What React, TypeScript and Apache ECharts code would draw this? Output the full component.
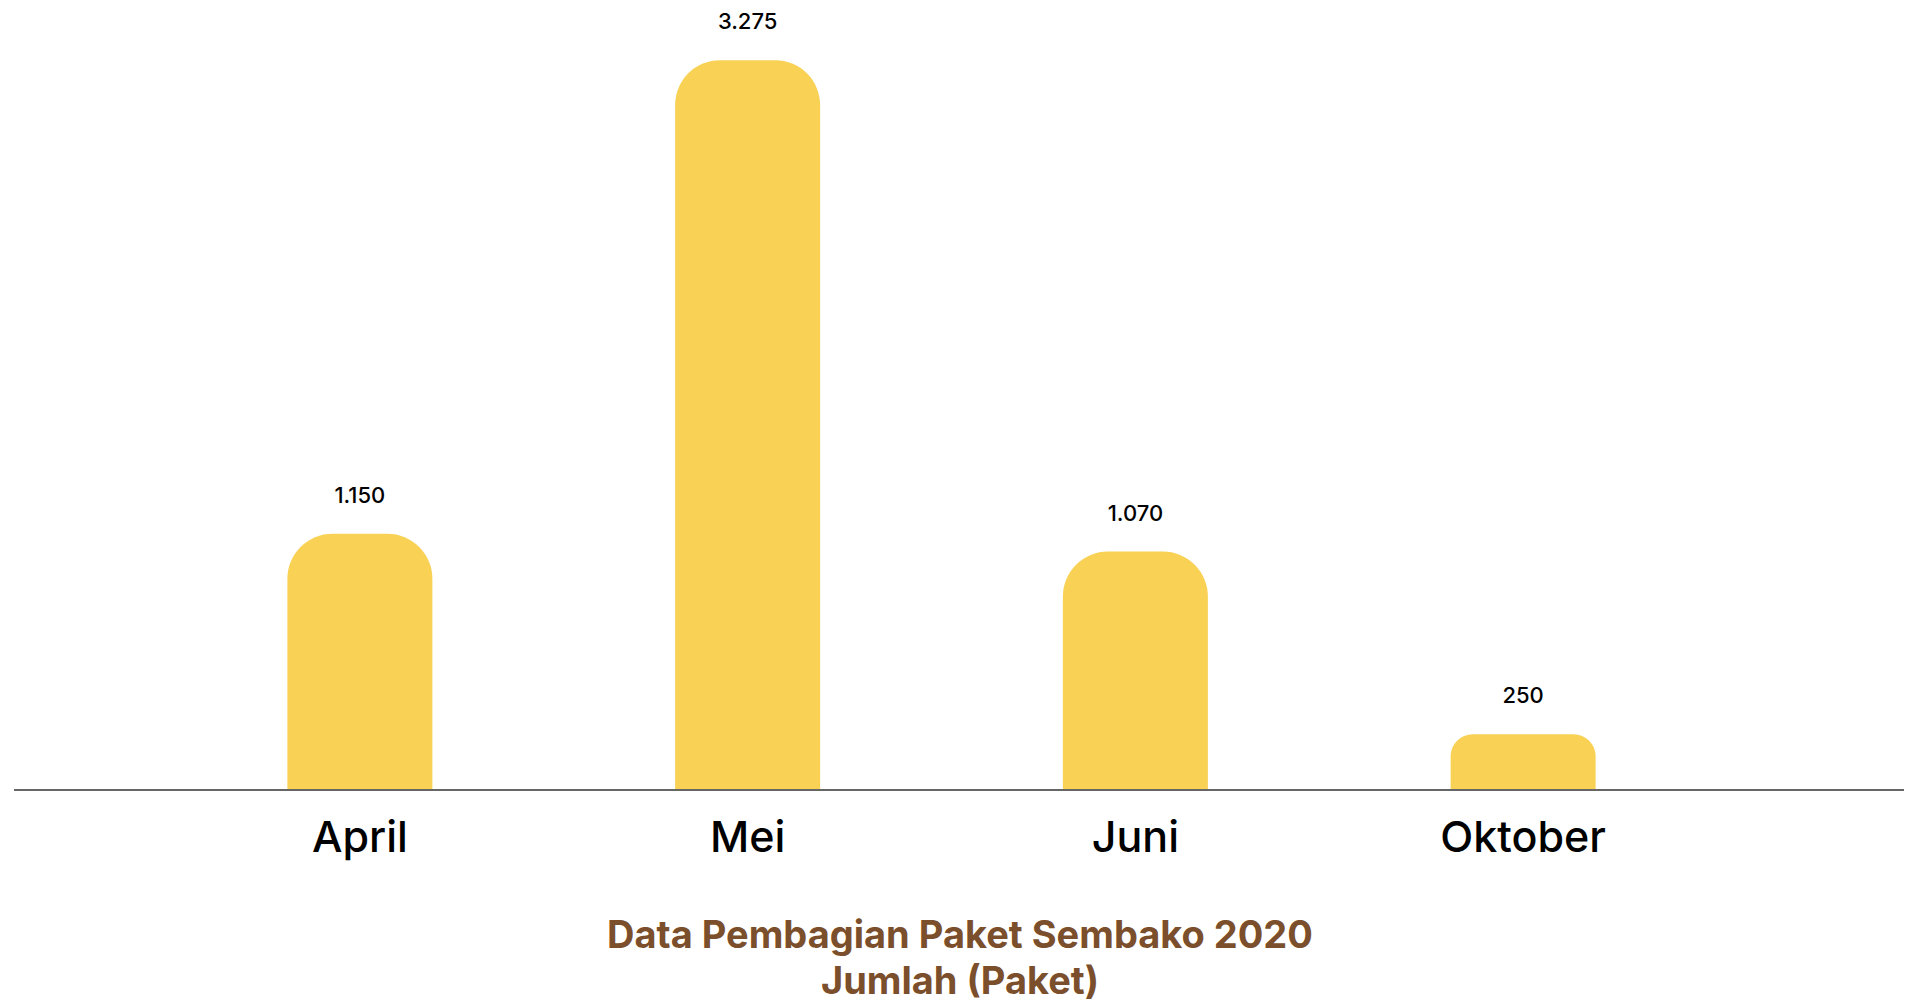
import { useEffect, useRef } from "react";
import * as echarts from "echarts";

// data pembagian paket sembako 2020
const MONTHS = ["April", "Mei", "Juni", "Oktober"];
const PAKET = [1150, 3275, 1070, 250];

const BAR = "#F8D155";
const AXIS = "#666666";
const BROWN = "#7B4F2B";
const FONT = "Inter, 'Noto Sans', sans-serif";

// angka gaya Indonesia: titik sebagai pemisah ribuan
const fmtID = (v: number) => v.toLocaleString("de-DE");

export default function App() {
  const ref = useRef<HTMLDivElement>(null);

  useEffect(() => {
    document.body.style.margin = "0";
    if (!ref.current) return;
    const inst = echarts.init(ref.current, undefined, { renderer: "svg" });

    inst.setOption({
      backgroundColor: "#ffffff",
      animation: false,
      textStyle: { fontFamily: FONT },
      title: {
        text: "Data Pembagian Paket Sembako 2020\nJumlah (Paket)",
        left: "center",
        top: 911,
        padding: 0,
        textStyle: { color: BROWN, fontSize: 38, fontWeight: 700, lineHeight: 46, fontFamily: FONT },
      },
      grid: { left: 166, right: 203, top: 10, bottom: 215 },
      xAxis: {
        type: "category",
        data: MONTHS,
        axisLine: { show: false },
        axisTick: { show: false },
        axisLabel: { color: "#000", fontSize: 43, fontWeight: 500, margin: 24, fontFamily: FONT },
      },
      yAxis: {
        type: "value",
        min: 0,
        max: 3500,
        show: false,
        splitLine: { show: false },
      },
      graphic: [
        {
          type: "line",
          shape: { x1: 14, y1: 790, x2: 1904, y2: 790 },
          style: { stroke: AXIS, lineWidth: 2 },
          z: 10,
        },
      ],
      series: [
        {
          type: "bar",
          barWidth: 145,
          data: PAKET.map(v => ({
            value: v,
            // bar pendek (Oktober) sudutnya lebih kecil
            itemStyle: { borderRadius: v < 500 ? [22, 22, 0, 0] : [45, 45, 0, 0] },
          })),
          itemStyle: { color: BAR },
          label: {
            show: true,
            position: "top",
            distance: 28,
            color: "#000",
            fontSize: 22,
            fontWeight: 500,
            fontFamily: FONT,
            formatter: (p: { value: number }) => fmtID(p.value),
          },
        },
      ],
    });

    return () => inst.dispose();
  }, []);

  return <div ref={ref} style={{ width: 1920, height: 1005 }} />;
}
